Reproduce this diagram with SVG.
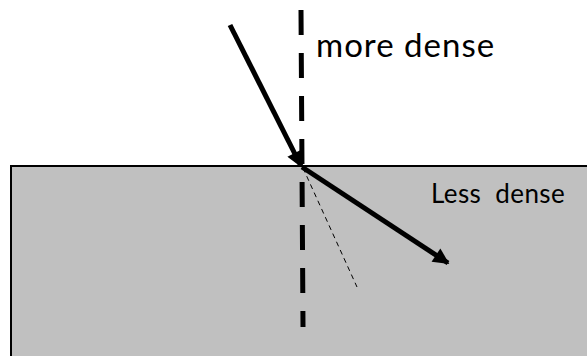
<svg xmlns="http://www.w3.org/2000/svg" width="587" height="356" viewBox="0 0 587 356">
<style>
.lbl{font-family:Lato,"Liberation Sans",sans-serif;fill:#000;white-space:pre}
.ray{stroke:#000;stroke-width:5;fill:none}
</style>
<defs>
<marker id="ah" viewBox="0 0 10 10" refX="9" refY="5" markerWidth="20" markerHeight="16" markerUnits="userSpaceOnUse" orient="auto">
<path d="M0,0 L10,5 L0,10 Z" fill="#000"/>
</marker>
</defs>
<g id="denser-medium">
<rect x="11" y="166" width="590" height="200" fill="#c0c0c0" stroke="#000" stroke-width="2"/>
</g>
<g id="labels">
<text class="lbl" x="316" y="57" font-size="33" letter-spacing="1">more dense</text>
<text class="lbl" x="431" y="203" font-size="26" letter-spacing="0.4" xml:space="preserve">Less  dense</text>
</g>
<g id="connectors">
<line x1="301" y1="10" x2="303" y2="327" stroke="#000" stroke-width="5" stroke-dasharray="25 18"/>
<line x1="303" y1="168" x2="357" y2="287" stroke="#000" stroke-width="1" stroke-dasharray="5 4"/>
<line class="ray" x1="230" y1="25" x2="301" y2="166" marker-end="url(#ah)"/>
<line class="ray" x1="302" y1="167" x2="448" y2="263" marker-end="url(#ah)"/>
</g>
</svg>
